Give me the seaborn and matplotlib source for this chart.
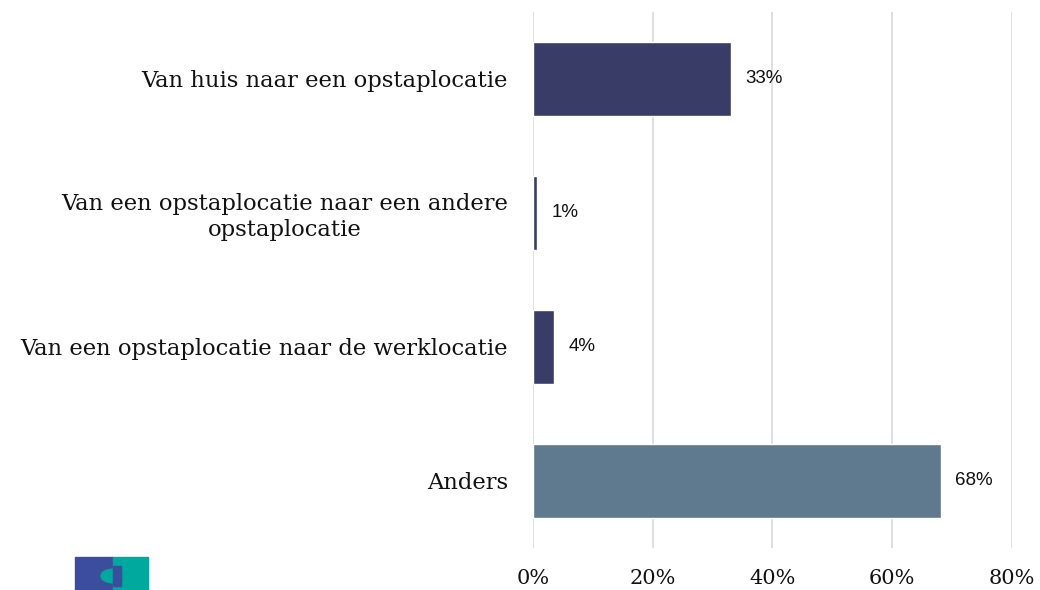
import matplotlib
matplotlib.use("Agg")
import matplotlib.pyplot as plt
import seaborn as sns
import pandas as pd
from matplotlib.patches import Rectangle, Wedge

# data
categories = [
    "Van huis naar een opstaplocatie",
    "Van een opstaplocatie naar een andere\nopstaplocatie",
    "Van een opstaplocatie naar de werklocatie",
    "Anders",
]
values = [33.1, 0.7, 3.5, 68.1]
bar_colors = ["#383C66", "#383C66", "#383C66", "#5F7A8E"]
xticks = [0, 20, 40, 60, 80]

df = pd.DataFrame({"cat": categories, "val": values})

sns.set_style("white")
plt.rcParams["font.family"] = ["DejaVu Serif"]

fig = plt.figure(figsize=(10.4, 5.9), dpi=100)
ax = fig.add_axes([0.5125, 0.0712, 0.4605, 0.9085])

sns.barplot(data=df, y="cat", x="val", hue="cat", palette=bar_colors,
            saturation=1, orient="h", width=0.55, legend=False, ax=ax, zorder=3)

ax.set_xlim(0, 80)
ax.set_ylim(3.5, -0.5)
ax.set_xticks(xticks)
ax.set_xticklabels([f"{t}%" for t in xticks], fontsize=15, color="#111111")
ax.grid(axis="x", color="#D9D9D9", linewidth=1.2, zorder=0)
ax.set_xlabel("")
ax.set_ylabel("")
ax.tick_params(axis="x", length=0, pad=15)
ax.tick_params(axis="y", length=0, pad=18)
for lbl in ax.get_yticklabels():
    lbl.set_fontsize(16.3)
    lbl.set_color("#111111")
    lbl.set_multialignment("center")
for s in ax.spines.values():
    s.set_visible(False)

# value labels
for i, v in enumerate(values):
    ax.text(v + 2.4, i, f"{v:.0f}%", va="center", ha="left",
            fontsize=13.5, family="Liberation Sans", color="#111111")

# small logo bottom left
fig.patches.append(Rectangle((75 / 1040, 0), 38 / 1040, 33 / 590,
                             transform=fig.transFigure, color="#3D4D9E"))
fig.patches.append(Rectangle((113 / 1040, 0), 35 / 1040, 33 / 590,
                             transform=fig.transFigure, color="#00A99D"))
fig.patches.append(Wedge((113 / 1040, 14 / 590), 12 / 1040, 90, 270,
                         transform=fig.transFigure, color="#00A99D"))
fig.patches.append(Rectangle((113 / 1040, 4 / 590), 8 / 1040, 20 / 590,
                             transform=fig.transFigure, color="#3D4D9E"))

fig.savefig("out.png", dpi=100)
